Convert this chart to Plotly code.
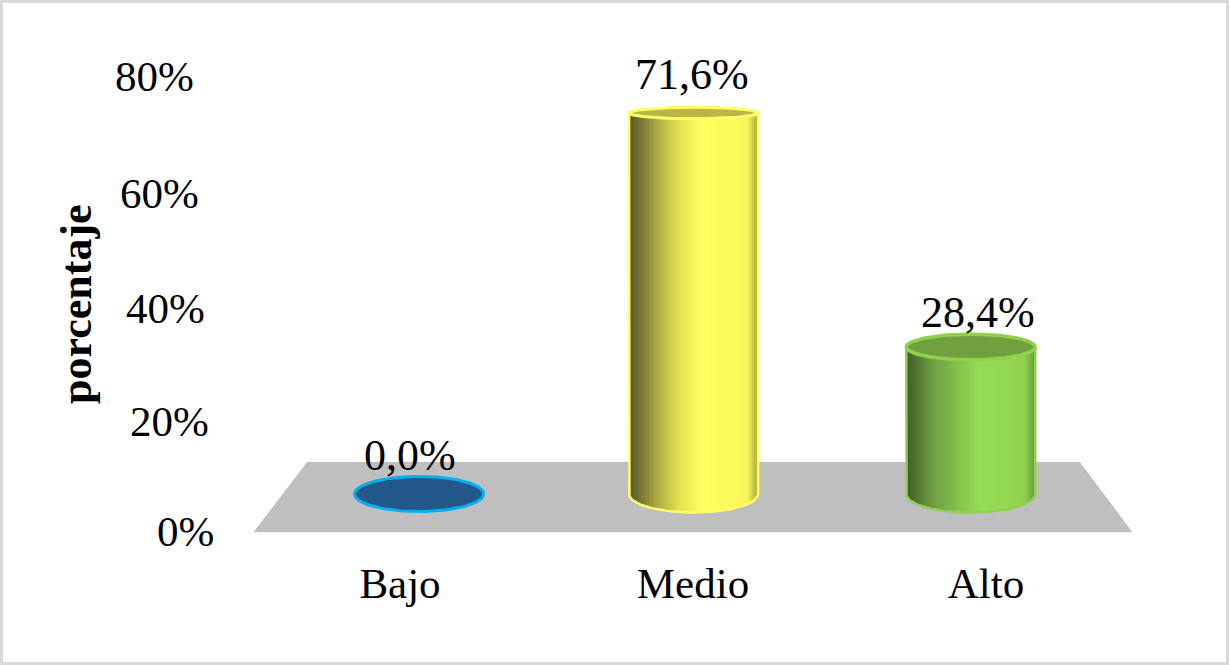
import numpy as np
import plotly.graph_objects as go

# ---- data ----
categories = ["Bajo", "Medio", "Alto"]
values = [0.0, 71.6, 28.4]
value_labels = ["0,0%", "71,6%", "28,4%"]
tick_values = [0, 20, 40, 60, 80]
tick_labels = ["0%", "20%", "40%", "60%", "80%"]
axis_title = "porcentaje"

# ---- style ----
W, H = 1229, 665
ML, MR, MT, MB = 215, 49, 78, 132
PW, PH = W - ML - MR, H - MT - MB
PX_X = 293.0
X0 = (ML - 400) / PX_X
X1 = X0 + PW / PX_X
PX_Y = PH / 80.0
FONT = "Liberation Serif"
FS = 43

BAR_SHIFT = {"Bajo": 0.065, "Medio": 0.002, "Alto": -0.052}
BASE = 6.86              # centre of the cylinder foot, on the grey floor
TOP_K, TOP_C = 0.9524, 5.66
HALF_W = 64.5 / PX_X
FOOT_B = 18.5 / PX_Y

fills = {
    "Bajo": None,
    "Medio": [(0, "#55542A"), (.2, "#A5A23E"), (.4, "#E6E353"), (.58, "#FFFF5F"), (.92, "#F6F65A"), (1, "#A4A43F")],
    "Alto": [(0, "#3D5C26"), (.2, "#6F9C42"), (.4, "#85C04C"), (.58, "#96DC53"), (.92, "#8FD24F"), (1, "#6A993F")],
}
rims = {"Bajo": "#00B0F0", "Medio": "#FFFF66", "Alto": "#8ED14F"}
rim_w = {"Bajo": 3, "Medio": 3, "Alto": 3.5}
lids = {"Bajo": "#23588A", "Medio": "#B9B648", "Alto": "#72A03F"}
label_shift = {"Bajo": (-9, -6), "Medio": (-2, 6), "Alto": (7, -5)}
tick_shift = {0: (1, -2), 20: (-4, 2), 40: (-8, 3), 60: (-14, 2), 80: (-19, -2)}


def mix(stops, t):
    for (a, ca), (b, cb) in zip(stops, stops[1:]):
        if t <= b:
            f = (t - a) / (b - a)
            rgb = [round(int(ca[i:i + 2], 16) * (1 - f) + int(cb[i:i + 2], 16) * f) for i in (1, 3, 5)]
            return "rgb(%d,%d,%d)" % tuple(rgb)
    return stops[-1][1]


fig = go.Figure()

# grey floor, in axis units, beneath all traces
fig.add_shape(type="path", xref="x", yref="y", layer="below", fillcolor="#BFBFBF", line=dict(width=0),
              path="M -0.50 0.15 L 2.50 0.15 L 2.32 12.48 L -0.317 12.48 Z")

angles = np.linspace(0, 2 * np.pi, 121)
for i, (cat, v) in enumerate(zip(categories, values)):
    cx = i + BAR_SHIFT[cat]
    top = max(BASE, TOP_C + TOP_K * v) if v > 0 else BASE
    lid_b = (17.5 - 0.165 * v) / PX_Y

    if v > 0:
        # cylinder wall: narrow bars, each following the curved foot
        n = 65
        t = (np.arange(n) + 0.5) / n
        sx = cx - HALF_W + 2 * HALF_W * t
        foot = BASE - FOOT_B * np.sqrt(np.clip(1 - (2 * t - 1) ** 2, 0, 1))
        fig.add_trace(go.Bar(x=sx, y=top - foot, base=foot, width=2 * HALF_W / n * 1.4,
                             marker=dict(color=[mix(fills[cat], a) for a in t], line=dict(width=0)),
                             hoverinfo="skip", showlegend=False))
        # outline of sides and foot
        th = np.linspace(np.pi, 2 * np.pi, 61)
        ox = np.concatenate([[cx - HALF_W], cx + HALF_W * np.cos(th), [cx + HALF_W]])
        oy = np.concatenate([[top], BASE + FOOT_B * np.sin(th), [top]])
        fig.add_trace(go.Scatter(x=ox, y=oy, mode="lines", line=dict(color=rims[cat], width=2.5),
                                 hoverinfo="skip", showlegend=False))

    # lid
    fig.add_trace(go.Scatter(x=cx + HALF_W * np.cos(angles), y=top + lid_b * np.sin(angles),
                             mode="lines", fill="toself", fillcolor=lids[cat],
                             line=dict(color=rims[cat], width=rim_w[cat]), hoverinfo="skip", showlegend=False))

    dx, dy = label_shift[cat]
    fig.add_annotation(x=cx, y=top + lid_b, xref="x", yref="y", text=value_labels[i], showarrow=False,
                       xanchor="center", yanchor="bottom", xshift=dx, yshift=dy,
                       font=dict(family=FONT, size=44, color="#000000"))

for tv, tl in zip(tick_values, tick_labels):
    dx, dy = tick_shift[tv]
    fig.add_annotation(x=0, y=tv, xref="paper", yref="y", text=tl, showarrow=False,
                       xanchor="right", yanchor="middle", xshift=dx, yshift=-dy,
                       font=dict(family=FONT, size=FS, color="#000000"))

fig.add_annotation(x=(76 - ML) / PW, y=(H - MB - 304) / PH, xref="paper", yref="paper",
                   text="<b>%s</b>" % axis_title, textangle=-90, showarrow=False,
                   xanchor="center", yanchor="middle",
                   font=dict(family=FONT, size=44, color="#000000"))

fig.update_layout(
    width=W, height=H, margin=dict(l=ML, r=MR, t=MT, b=MB, pad=0),
    paper_bgcolor="#FFFFFF", plot_bgcolor="rgba(0,0,0,0)", barmode="overlay", showlegend=False,
    bargap=0,
    xaxis=dict(range=[X0, X1], tickmode="array", tickvals=[0, 1, 2], ticktext=categories,
               showgrid=False, zeroline=False, showline=False, ticks="",
               tickfont=dict(family=FONT, size=FS, color="#000000"), ticklabelstandoff=21),
    yaxis=dict(range=[0, 80], tickvals=tick_values, showticklabels=False, showgrid=False,
               zeroline=False, showline=False, ticks=""),
)
# page frame
fig.add_shape(type="rect", xref="paper", yref="paper", layer="below",
              x0=(1.5 - ML) / PW, x1=(W - 1.5 - ML) / PW,
              y0=(H - MB - (H - 1.5)) / PH, y1=(H - MB - 1.5) / PH,
              line=dict(color="#D9D9D9", width=3))

fig.write_html("out.html", config={"displayModeBar": False},
               post_script="document.body.style.margin='0';document.body.style.overflow='hidden';")
